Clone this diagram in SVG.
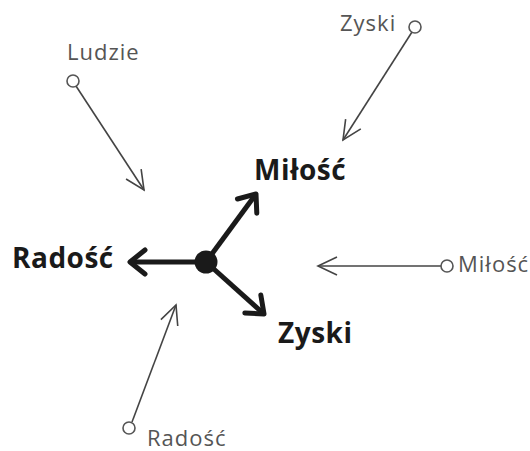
<svg xmlns="http://www.w3.org/2000/svg" width="530" height="451" viewBox="0 0 530 451">
<defs>
<style>
.big{font-family:"Open Sans","Noto Sans",sans-serif;font-weight:bold;font-size:28px;letter-spacing:0.5px;fill:#1a1a1a}
.small{font-family:"Open Sans","Noto Sans",sans-serif;font-size:22px;letter-spacing:1px;fill:#555}
.thin{stroke:#444;stroke-width:1.6;fill:none}
.thick{stroke:#1a1a1a;stroke-width:5;fill:none}
.src{fill:#fff;stroke:#555;stroke-width:1.6}
</style>
<marker id="thinHead" markerUnits="userSpaceOnUse" viewBox="-22 -12 26 24" refX="0" refY="0" markerWidth="26" markerHeight="24" orient="auto">
<path d="M-19,-9 L0,0 L-19,9" fill="none" stroke="#444" stroke-width="1.6"/>
</marker>
<marker id="thickHead" markerUnits="userSpaceOnUse" viewBox="-22 -16 28 32" refX="0" refY="0" markerWidth="28" markerHeight="32" orient="auto">
<path d="M-15,-12 L0,0 L-15,12" fill="none" stroke="#1a1a1a" stroke-width="5" stroke-linecap="round" stroke-linejoin="round"/>
</marker>
</defs>
<rect width="530" height="451" fill="#fff"/>
<g id="connectors">
<line class="thick" x1="206" y1="262" x2="130" y2="262" marker-end="url(#thickHead)"/>
<line class="thick" x1="206" y1="262" x2="256" y2="194" marker-end="url(#thickHead)"/>
<line class="thick" x1="206" y1="262" x2="264" y2="314" marker-end="url(#thickHead)"/>
<line class="thin" x1="76" y1="86" x2="144" y2="190" marker-end="url(#thinHead)"/>
<line class="thin" x1="412" y1="32" x2="343" y2="140" marker-end="url(#thinHead)"/>
<line class="thin" x1="132" y1="422" x2="176" y2="305" marker-end="url(#thinHead)"/>
<line class="thin" x1="441" y1="266" x2="318" y2="266" marker-end="url(#thinHead)"/>
</g>
<g id="center"><circle cx="206" cy="262" r="11.5" fill="#1a1a1a"/></g>
<g id="radosc-main"><text class="big" x="12" y="268">Radość</text></g>
<g id="milosc-main"><text class="big" x="254" y="180">Miłość</text></g>
<g id="zyski-main"><text class="big" x="278" y="343">Zyski</text></g>
<g id="ludzie-src"><circle class="src" cx="73" cy="81" r="6"/><text class="small" x="67" y="60">Ludzie</text></g>
<g id="zyski-src"><circle class="src" cx="415" cy="27" r="6"/><text class="small" x="340" y="31">Zyski</text></g>
<g id="radosc-src"><circle class="src" cx="129" cy="428" r="6"/><text class="small" x="147" y="446">Radość</text></g>
<g id="milosc-src"><circle class="src" cx="447" cy="266" r="6"/><text class="small" x="458" y="272">Miłość</text></g>
</svg>
